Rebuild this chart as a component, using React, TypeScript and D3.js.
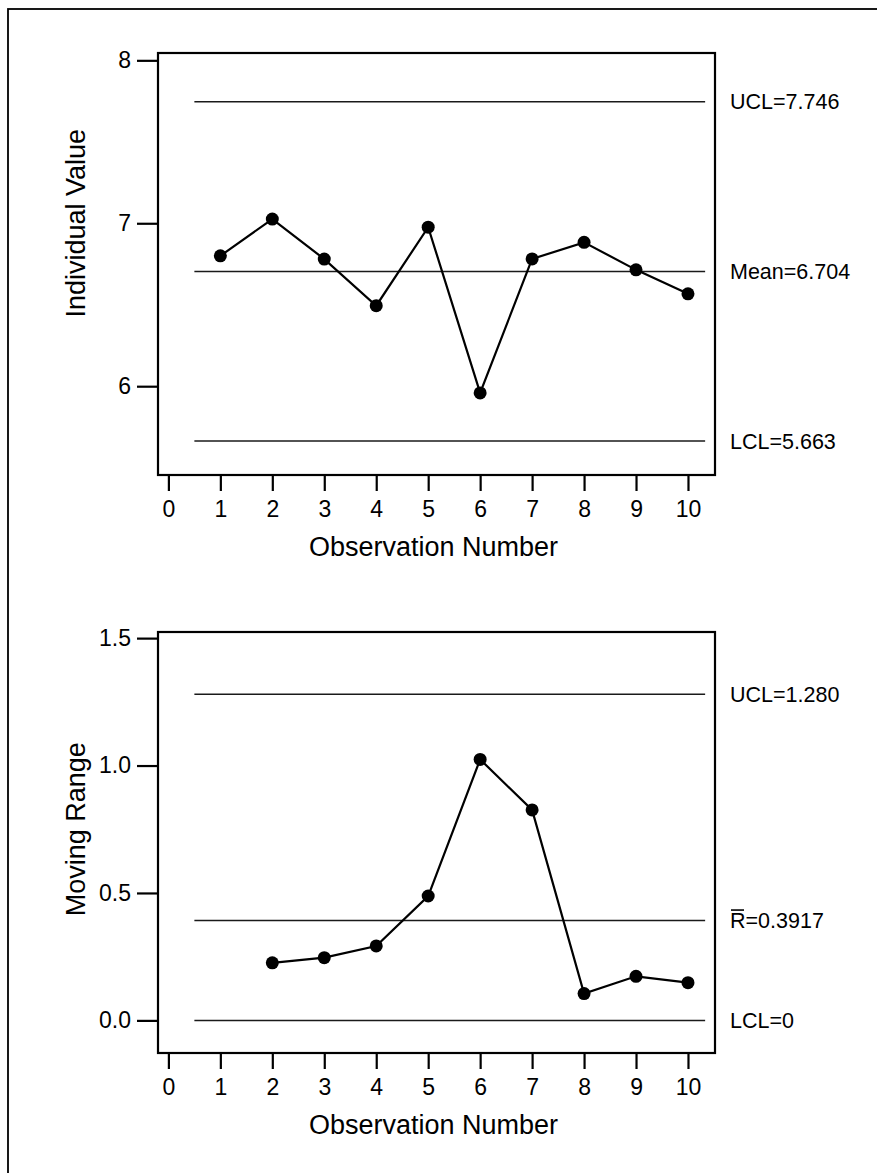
import React, { useEffect, useRef } from 'react';
import * as d3 from 'd3';

const observations = [1, 2, 3, 4, 5, 6, 7, 8, 9, 10];
const individualValues = [6.80, 7.026, 6.78, 6.494, 6.976, 5.959, 6.781, 6.883, 6.714, 6.567];
const rangeObs = [2, 3, 4, 5, 6, 7, 8, 9, 10];
const movingRanges = [0.226, 0.246, 0.292, 0.488, 1.024, 0.826, 0.105, 0.173, 0.148];
const xTicks = [0, 1, 2, 3, 4, 5, 6, 7, 8, 9, 10];
const iTicks = [6, 7, 8];
const mrTicks = [0, 0.5, 1.0, 1.5];
const iLimits = [
  { value: 7.746, label: 'UCL=7.746' },
  { value: 6.704, label: 'Mean=6.704' },
  { value: 5.663, label: 'LCL=5.663' },
];
const mrLimits = [
  { value: 1.28, label: 'UCL=1.280' },
  { value: 0.3917, label: 'R=0.3917', bar: true },
  { value: 0, label: 'LCL=0' },
];

const FONT = '"Liberation Sans", Arial, Helvetica, sans-serif';

interface PanelSpec {
  top: number;
  bottom: number;
  yDomain: [number, number];
  ticks: number[];
  tickFormat: (d: number) => string;
  xs: number[];
  ys: number[];
  limits: { value: number; label: string; bar?: boolean }[];
  yTitle: string;
}

const App: React.FC = () => {
  const svgRef = useRef<SVGSVGElement>(null);

  useEffect(() => {
    if (!svgRef.current) return;
    const svg = d3.select(svgRef.current);
    svg.selectAll('*').remove();

    const left = 158;
    const right = 715;

    // outer frame
    svg.append('rect')
      .attr('x', 8).attr('y', 9)
      .attr('width', 900).attr('height', 1200)
      .attr('fill', 'none')
      .attr('stroke', '#000')
      .attr('stroke-width', 1.8);

    const xScale = d3.scaleLinear().domain([-0.2, 10.52]).range([left, right]);

    const panels: PanelSpec[] = [
      {
        top: 53, bottom: 475, yDomain: [5.455, 8.045], ticks: iTicks,
        tickFormat: d => d3.format('d')(d),
        xs: observations, ys: individualValues, limits: iLimits, yTitle: 'Individual Value',
      },
      {
        top: 632, bottom: 1053, yDomain: [-0.128, 1.524], ticks: mrTicks,
        tickFormat: d => d3.format('.1f')(d),
        xs: rangeObs, ys: movingRanges, limits: mrLimits, yTitle: 'Moving Range',
      },
    ];

    panels.forEach(p => {
      const yScale = d3.scaleLinear().domain(p.yDomain).range([p.bottom, p.top]);
      const g = svg.append('g');

      // control lines
      p.limits.forEach(l => {
        const y = yScale(l.value);
        g.append('line')
          .attr('x1', xScale(0.5)).attr('x2', xScale(10.33))
          .attr('y1', y).attr('y2', y)
          .attr('stroke', '#1a1a1a')
          .attr('stroke-width', 1.5);
        g.append('text')
          .attr('x', 730).attr('y', y)
          .attr('dy', '0.36em')
          .style('font-family', FONT)
          .style('font-size', '21.5px')
          .style('fill', '#000')
          .text(l.label);
        if (l.bar) {
          g.append('line')
            .attr('x1', 731).attr('x2', 744)
            .attr('y1', y - 10.5).attr('y2', y - 10.5)
            .attr('stroke', '#000').attr('stroke-width', 1.6);
        }
      });

      // data line + points
      const pts = p.xs.map((x, i) => [x, p.ys[i]] as [number, number]);
      const line = d3.line<[number, number]>()
        .x(d => xScale(d[0]))
        .y(d => yScale(d[1]));
      g.append('path')
        .datum(pts)
        .attr('d', line)
        .attr('fill', 'none')
        .attr('stroke', '#000')
        .attr('stroke-width', 2.2);
      g.selectAll('.pt')
        .data(pts)
        .enter()
        .append('circle')
        .attr('class', 'pt')
        .attr('cx', d => xScale(d[0]))
        .attr('cy', d => yScale(d[1]))
        .attr('r', 6.5)
        .attr('fill', '#000');

      // plot frame
      g.append('rect')
        .attr('x', left).attr('y', p.top)
        .attr('width', right - left).attr('height', p.bottom - p.top)
        .attr('fill', 'none')
        .attr('stroke', '#000')
        .attr('stroke-width', 2.2);

      // axes
      const yAxis = g.append('g')
        .attr('transform', `translate(${left}, 0)`)
        .call(d3.axisLeft(yScale).tickValues(p.ticks).tickFormat(d => p.tickFormat(+d)).tickSize(21).tickSizeOuter(0).tickPadding(6));
      yAxis.select('.domain').remove();

      const xAxis = g.append('g')
        .attr('transform', `translate(0, ${p.bottom})`)
        .call(d3.axisBottom(xScale).tickValues(xTicks).tickFormat(d3.format('d')).tickSize(16).tickSizeOuter(0).tickPadding(10));
      xAxis.select('.domain').remove();

      [yAxis, xAxis].forEach(a => {
        a.selectAll('line').attr('stroke', '#000').attr('stroke-width', 2.2);
        a.selectAll('text')
          .style('font-family', FONT)
          .style('font-size', '23px')
          .style('fill', '#000');
      });

      // axis titles
      g.append('text')
        .attr('x', (left + right) / 2 - 3)
        .attr('y', p.bottom + 71)
        .attr('dy', '0.36em')
        .attr('text-anchor', 'middle')
        .style('font-family', FONT)
        .style('font-size', '27px')
        .text('Observation Number');

      const tickMid = (yScale(p.ticks[0]) + yScale(p.ticks[p.ticks.length - 1])) / 2;
      g.append('text')
        .attr('transform', `translate(75, ${tickMid}) rotate(-90)`)
        .attr('dy', '0.36em')
        .attr('text-anchor', 'middle')
        .style('font-family', FONT)
        .style('font-size', '27px')
        .text(p.yTitle);
    });
  }, []);

  return (
    <svg
      ref={svgRef}
      width={877}
      height={1173}
      style={{ position: 'absolute', left: 0, top: 0, background: '#fff' }}
    />
  );
};

export default App;
